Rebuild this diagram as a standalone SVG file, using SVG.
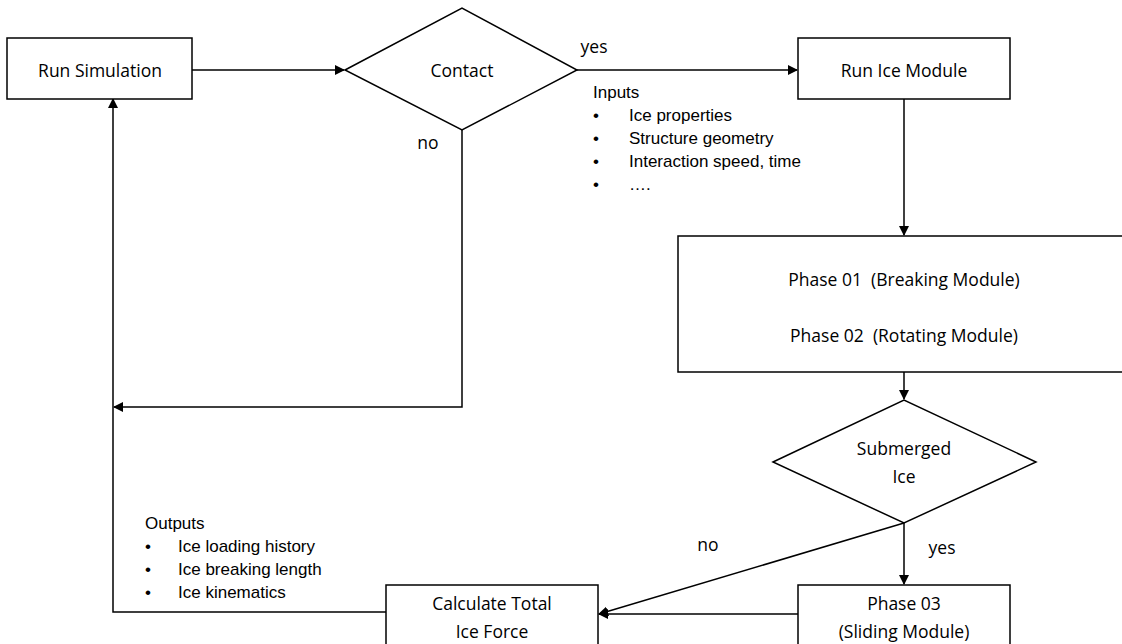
<svg xmlns="http://www.w3.org/2000/svg" width="1122" height="644" viewBox="0 0 1122 644">
<style>
.box{fill:#fff;stroke:#000;stroke-width:1.5}
.lbl{font-family:"Open Sans","Liberation Sans",sans-serif;font-size:17.5px;fill:#000;text-anchor:middle;white-space:pre}
.note{font-family:"Liberation Sans Narrow","Liberation Sans",sans-serif;font-size:17px;fill:#000}
.edge{fill:none;stroke:#000;stroke-width:1.5}
</style>
<defs>
<marker id="arr" markerWidth="10" markerHeight="10" refX="9" refY="5" orient="auto" markerUnits="userSpaceOnUse">
<path d="M0,0 L10,5 L0,10 z" fill="#000"/>
</marker>
</defs>
<rect width="1122" height="644" fill="#fff"/>
<g id="connectors">
<path class="edge" d="M192,70 H344" marker-end="url(#arr)"/>
<path class="edge" d="M577,70 H797" marker-end="url(#arr)"/>
<path class="edge" d="M904,98 V235" marker-end="url(#arr)"/>
<path class="edge" d="M904,372 V399" marker-end="url(#arr)"/>
<path class="edge" d="M904,523 V584" marker-end="url(#arr)"/>
<path class="edge" d="M904,523 L599,614" marker-end="url(#arr)"/>
<path class="edge" d="M798,614 H599" marker-end="url(#arr)"/>
<path class="edge" d="M462,130 V407 H114" marker-end="url(#arr)"/>
<path class="edge" d="M386,612 H113 V99" marker-end="url(#arr)"/>
<text class="lbl" x="594" y="53">yes</text>
<text class="lbl" x="428" y="149">no</text>
<text class="lbl" x="708" y="551">no</text>
<text class="lbl" x="942" y="554">yes</text>
</g>
<g id="run-simulation">
<rect class="box" x="7" y="38" width="185" height="61"/>
<text class="lbl" x="100" y="77">Run Simulation</text>
</g>
<g id="contact">
<polygon class="box" points="345,70 462,8 577,70 462,130"/>
<text class="lbl" x="462" y="77">Contact</text>
</g>
<g id="run-ice-module">
<rect class="box" x="798" y="38" width="212" height="61"/>
<text class="lbl" x="904" y="77">Run Ice Module</text>
</g>
<g id="inputs">
<text class="note" x="593" y="98">Inputs</text>
<text class="note" x="593" y="121">•</text><text class="note" x="629" y="121">Ice properties</text>
<text class="note" x="593" y="144">•</text><text class="note" x="629" y="144">Structure geometry</text>
<text class="note" x="593" y="167">•</text><text class="note" x="629" y="167">Interaction speed, time</text>
<text class="note" x="593" y="190">•</text><text class="note" x="629" y="190">….</text>
</g>
<g id="phases">
<rect class="box" x="678" y="236" width="450" height="136"/>
<text class="lbl" x="904" y="286" xml:space="preserve">Phase 01  (Breaking Module)</text>
<text class="lbl" x="904" y="342" xml:space="preserve">Phase 02  (Rotating Module)</text>
</g>
<g id="submerged-ice">
<polygon class="box" points="773,462 904,400 1036,462 904,523"/>
<text class="lbl" x="904" y="455">Submerged</text>
<text class="lbl" x="904" y="483">Ice</text>
</g>
<g id="phase-03">
<rect class="box" x="798" y="585" width="212" height="70"/>
<text class="lbl" x="904" y="610">Phase 03</text>
<text class="lbl" x="904" y="638">(Sliding Module)</text>
</g>
<g id="calculate-total-ice-force">
<rect class="box" x="386" y="585" width="212" height="70"/>
<text class="lbl" x="492" y="610">Calculate Total</text>
<text class="lbl" x="492" y="638">Ice Force</text>
</g>
<g id="outputs">
<text class="note" x="145" y="529">Outputs</text>
<text class="note" x="145" y="552">•</text><text class="note" x="178" y="552">Ice loading history</text>
<text class="note" x="145" y="575">•</text><text class="note" x="178" y="575">Ice breaking length</text>
<text class="note" x="145" y="598">•</text><text class="note" x="178" y="598">Ice kinematics</text>
</g>
</svg>
